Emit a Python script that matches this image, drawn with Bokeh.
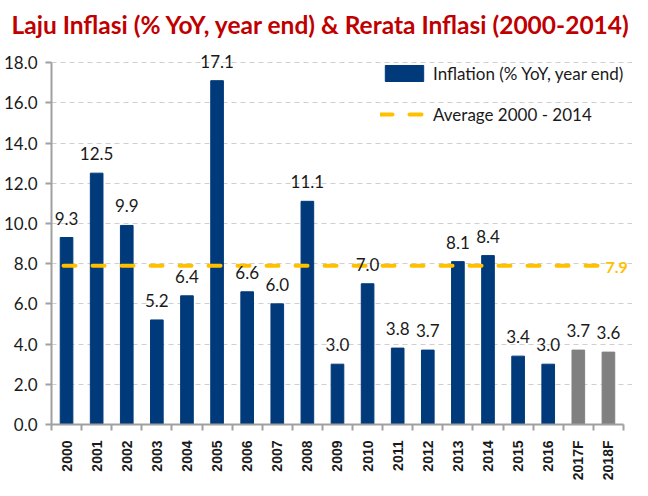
import math
from bokeh.plotting import figure
from bokeh.models import (Range1d, FixedTicker, NumeralTickFormatter, ColumnDataSource,
                          LabelSet, Label, Legend, LegendItem)
from bokeh.core.properties import value
from bokeh.embed import file_html
from bokeh.resources import INLINE

# ---- data ----
years = ["2000", "2001", "2002", "2003", "2004", "2005", "2006", "2007", "2008", "2009",
         "2010", "2011", "2012", "2013", "2014", "2015", "2016", "2017F", "2018F"]
inflation = [9.3, 12.5, 9.9, 5.2, 6.4, 17.1, 6.6, 6.0, 11.1, 3.0,
             7.0, 3.8, 3.7, 8.1, 8.4, 3.4, 3.0, 3.7, 3.6]
average_2000_2014 = 7.9
y_ticks = [0, 2, 4, 6, 8, 10, 12, 14, 16, 18]

NAVY = "#003a7a"
GREY = "#808080"
YELLOW = "#ffc000"
TEXT = "#1a1a1a"
AXIS = "#a0a0a0"

n = len(years)
xs = [i + 0.5 for i in range(n)]
is_fc = [y.endswith("F") for y in years]

act = ColumnDataSource(dict(x=[x for x, f in zip(xs, is_fc) if not f],
                            top=[v for v, f in zip(inflation, is_fc) if not f]))
fc = ColumnDataSource(dict(x=[x for x, f in zip(xs, is_fc) if f],
                           top=[v for v, f in zip(inflation, is_fc) if f]))
lab = ColumnDataSource(dict(x=xs, y=inflation, t=["%.1f" % v for v in inflation]))

y_top = y_ticks[-1]
p = figure(width=632, height=488, output_backend="svg", toolbar_location=None,
           x_range=Range1d(0, n + 0.3), y_range=Range1d(0, y_top + 0.8),
           min_border_left=45, min_border_right=0, min_border_top=46, min_border_bottom=64)
p.outline_line_color = None
p.border_fill_color = "white"
p.background_fill_color = "white"

p.title.text = "Laju Inflasi (% YoY, year end) & Rerata Inflasi (2000-2014)"
p.title.text_font = "Lato"
p.title.text_font_size = "24.5px"
p.title.text_font_style = "bold"
p.title.text_color = "#c00000"
p.title.align = "left"
p.title.offset = -40
p.title.standoff = 15

# grid
p.xgrid.grid_line_color = None
p.ygrid.ticker = FixedTicker(ticks=y_ticks)
p.ygrid.bounds = (0, n)
p.ygrid.grid_line_color = "#cfcfcf"
p.ygrid.grid_line_dash = "5 4"
p.ygrid.grid_line_width = 1

# bars
r_act = p.vbar(x="x", top="top", width=0.42, source=act, fill_color=NAVY, line_color=NAVY)
p.vbar(x="x", top="top", width=0.42, source=fc, fill_color=GREY, line_color=GREY)

# average line
r_avg = p.line(x=[xs[0] - 0.1, xs[-1] - 0.3], y=[average_2000_2014, average_2000_2014],
               line_color=YELLOW, line_width=4, line_dash="12 17", line_cap="round")

# value labels
p.add_layout(LabelSet(x="x", y="y", text="t", source=lab, text_align="center",
                      text_baseline="alphabetic", y_offset=13, text_font=value("Lato"),
                      text_font_size="17px", text_color=TEXT))
p.add_layout(Label(x=n - 0.6, y=average_2000_2014, text="%.1f" % average_2000_2014,
                   text_baseline="middle", text_align="left", y_offset=-2, text_font="Lato",
                   text_font_size="16px", text_font_style="bold", text_color=YELLOW))

# axes
ya = p.yaxis[0]
ya.bounds = (0, y_top)
ya.ticker = FixedTicker(ticks=y_ticks)
ya.formatter = NumeralTickFormatter(format="0.0")
ya.axis_line_color = AXIS
ya.axis_line_width = 2
ya.major_tick_line_color = AXIS
ya.major_tick_line_width = 2
ya.major_tick_out = 6
ya.major_tick_in = 0
ya.minor_tick_line_color = None
ya.major_label_standoff = 8
ya.major_label_text_font = "Lato"
ya.major_label_text_font_size = "17px"
ya.major_label_text_color = TEXT

xa = p.xaxis[0]
xa.bounds = (0, n)
xa.ticker = FixedTicker(ticks=xs, minor_ticks=list(range(n + 1)))
xa.major_label_overrides = {x: y for x, y in zip(xs, years)}
xa.major_label_orientation = math.pi / 2
xa.axis_line_color = AXIS
xa.axis_line_width = 2
xa.major_tick_line_color = None
xa.minor_tick_line_color = AXIS
xa.minor_tick_line_width = 2
xa.minor_tick_out = 6
xa.minor_tick_in = 0
xa.major_label_standoff = 10
xa.major_label_text_font = "Liberation Sans"
xa.major_label_text_font_size = "14px"
xa.major_label_text_font_style = "bold"
xa.major_label_text_color = TEXT

legend = Legend(items=[LegendItem(label="Inflation (% YoY, year end)", renderers=[r_act]),
                       LegendItem(label="Average 2000 - 2014", renderers=[r_avg])],
                location=(329, 298), padding=0, margin=0, spacing=17,
                glyph_width=48, glyph_height=20, label_height=24, label_standoff=5,
                border_line_color=None, background_fill_alpha=0,
                label_text_font="Lato", label_text_font_size="17px", label_text_color=TEXT)
p.add_layout(legend)

open("out.html", "w").write(file_html(p, INLINE))
